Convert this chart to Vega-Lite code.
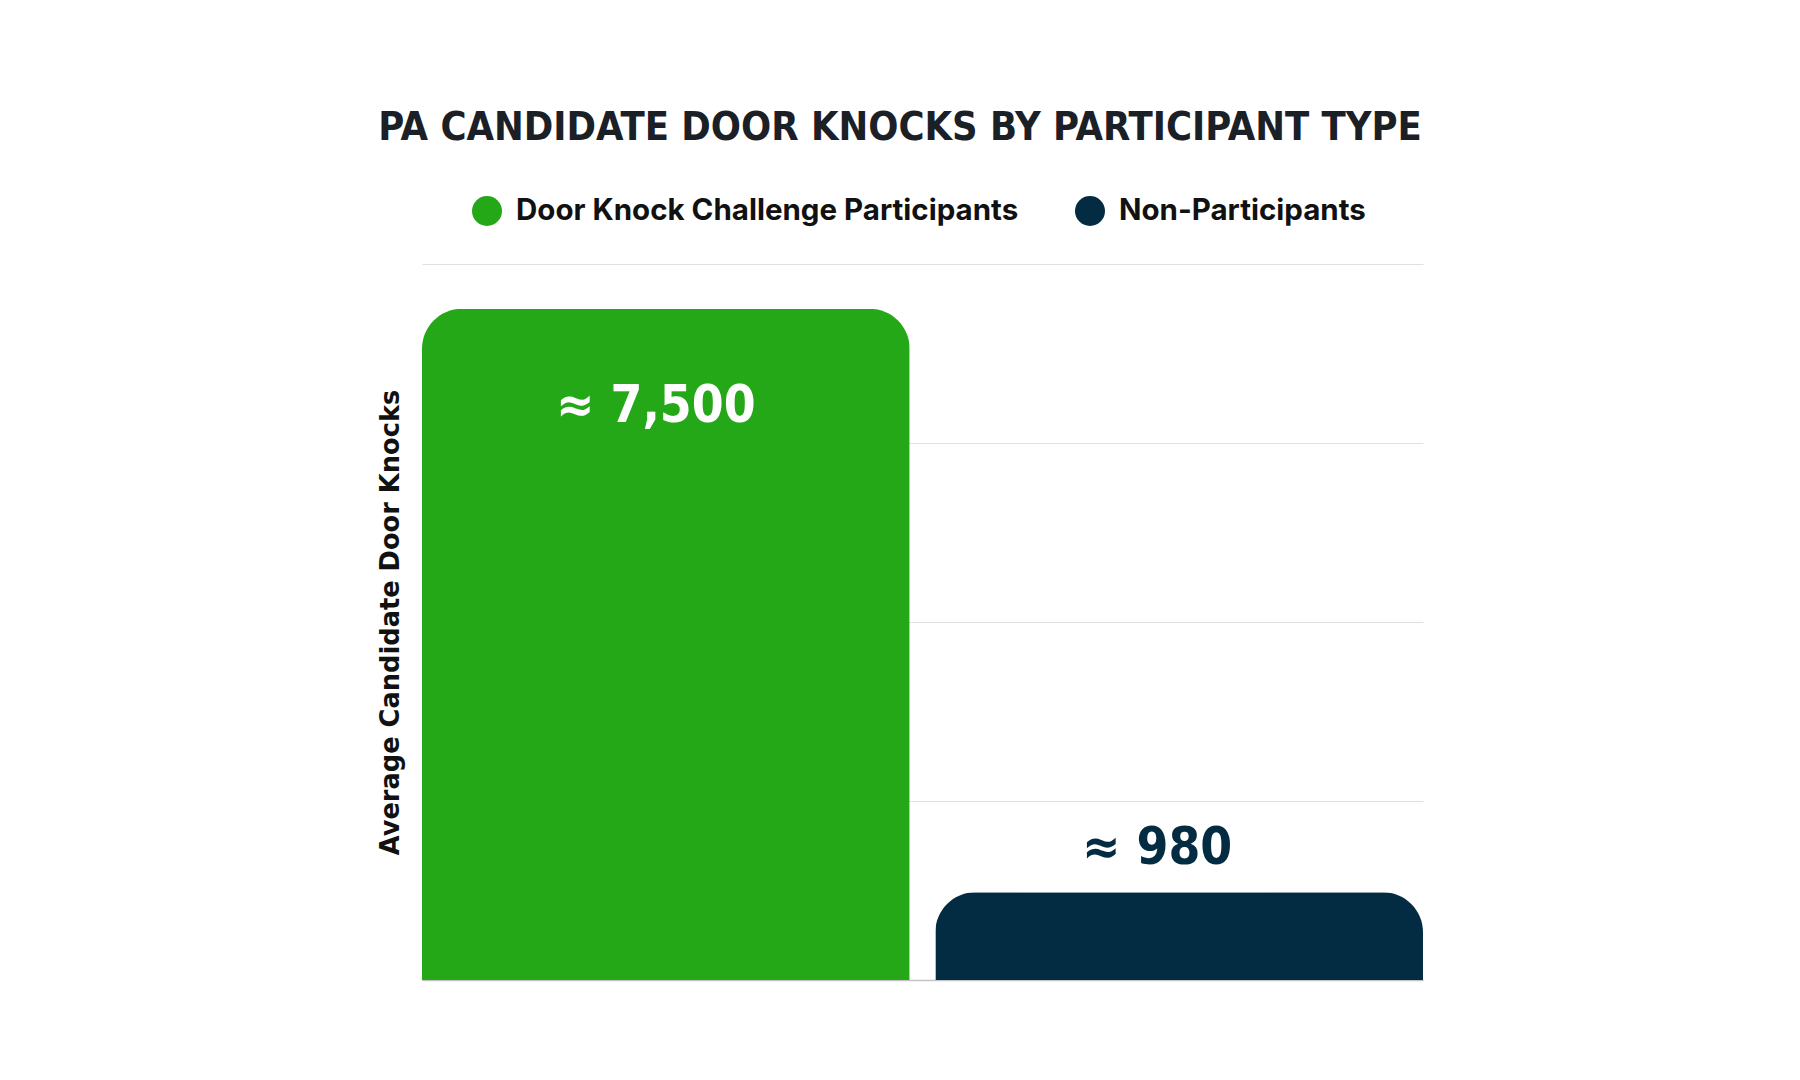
{
  "$schema": "https://vega.github.io/schema/vega-lite/v6.json",
  "width": 1001,
  "height": 716,
  "autosize": {"type": "none"},
  "padding": {"left": 422, "top": 264, "right": 377, "bottom": 100},
  "background": "#ffffff",
  "title": {
    "text": "PA CANDIDATE DOOR KNOCKS BY PARTICIPANT TYPE",
    "font": "DejaVu Sans Condensed",
    "fontWeight": "bold",
    "fontSize": 39.5,
    "color": "#1b2027",
    "anchor": "middle",
    "frame": "bounds",
    "offset": 48
  },
  "data": {
    "values": [
      {"group": "Door Knock Challenge Participants", "value": 7500, "label": "≈ 7,500"},
      {"group": "Non-Participants", "value": 980, "label": "≈ 980"}
    ]
  },
  "encoding": {
    "x": {
      "field": "group",
      "type": "nominal",
      "sort": ["Door Knock Challenge Participants", "Non-Participants"],
      "scale": {"paddingInner": 0.05, "paddingOuter": 0},
      "axis": {"labels": false, "ticks": false, "title": null, "domain": true, "domainColor": "#c4c4c4", "domainWidth": 1.5, "grid": false}
    },
    "y": {
      "field": "value",
      "type": "quantitative",
      "scale": {"domain": [0, 8000]},
      "axis": {
        "values": [0, 2000, 4000, 6000, 8000],
        "labels": false,
        "ticks": false,
        "domain": false,
        "grid": true,
        "gridColor": "#e0e0e0",
        "gridWidth": 1.2,
        "title": "Average Candidate Door Knocks",
        "titleFont": "DejaVu Sans",
        "titleFontWeight": "bold",
        "titleFontSize": 25.7,
        "titleColor": "#111111",
        "titlePadding": 19
      }
    }
  },
  "layer": [
    {
      "mark": {"type": "bar", "cornerRadiusTopLeft": 40, "cornerRadiusTopRight": 40},
      "encoding": {
        "color": {
          "field": "group",
          "type": "nominal",
          "sort": ["Door Knock Challenge Participants", "Non-Participants"],
          "scale": {"domain": ["Door Knock Challenge Participants", "Non-Participants"], "range": ["#25a817", "#032b41"]},
          "legend": {
            "orient": "none",
            "direction": "horizontal",
            "legendX": 50,
            "legendY": -68,
            "title": null,
            "padding": 0,
            "symbolType": "circle",
            "symbolSize": 900,
            "symbolStrokeWidth": 0,
            "labelFont": "Inter",
            "labelFontWeight": "bold",
            "labelFontSize": 29.5,
            "labelColor": "#111111",
            "labelOffset": 14,
            "labelLimit": 0,
            "columnPadding": 56
          }
        }
      }
    },
    {
      "transform": [{"filter": "datum.group === 'Door Knock Challenge Participants'"}],
      "mark": {"type": "text", "dy": 98, "dx": -10, "baseline": "middle", "align": "center", "font": "DejaVu Sans Condensed", "fontWeight": "bold", "fontSize": 51, "color": "#ffffff"},
      "encoding": {"text": {"field": "label"}}
    },
    {
      "transform": [{"filter": "datum.group === 'Non-Participants'"}],
      "mark": {"type": "text", "dy": -43, "dx": -22, "baseline": "middle", "align": "center", "font": "DejaVu Sans Condensed", "fontWeight": "bold", "fontSize": 51, "color": "#032b41"},
      "encoding": {"text": {"field": "label"}}
    }
  ],
  "config": {"view": {"stroke": null}}
}
